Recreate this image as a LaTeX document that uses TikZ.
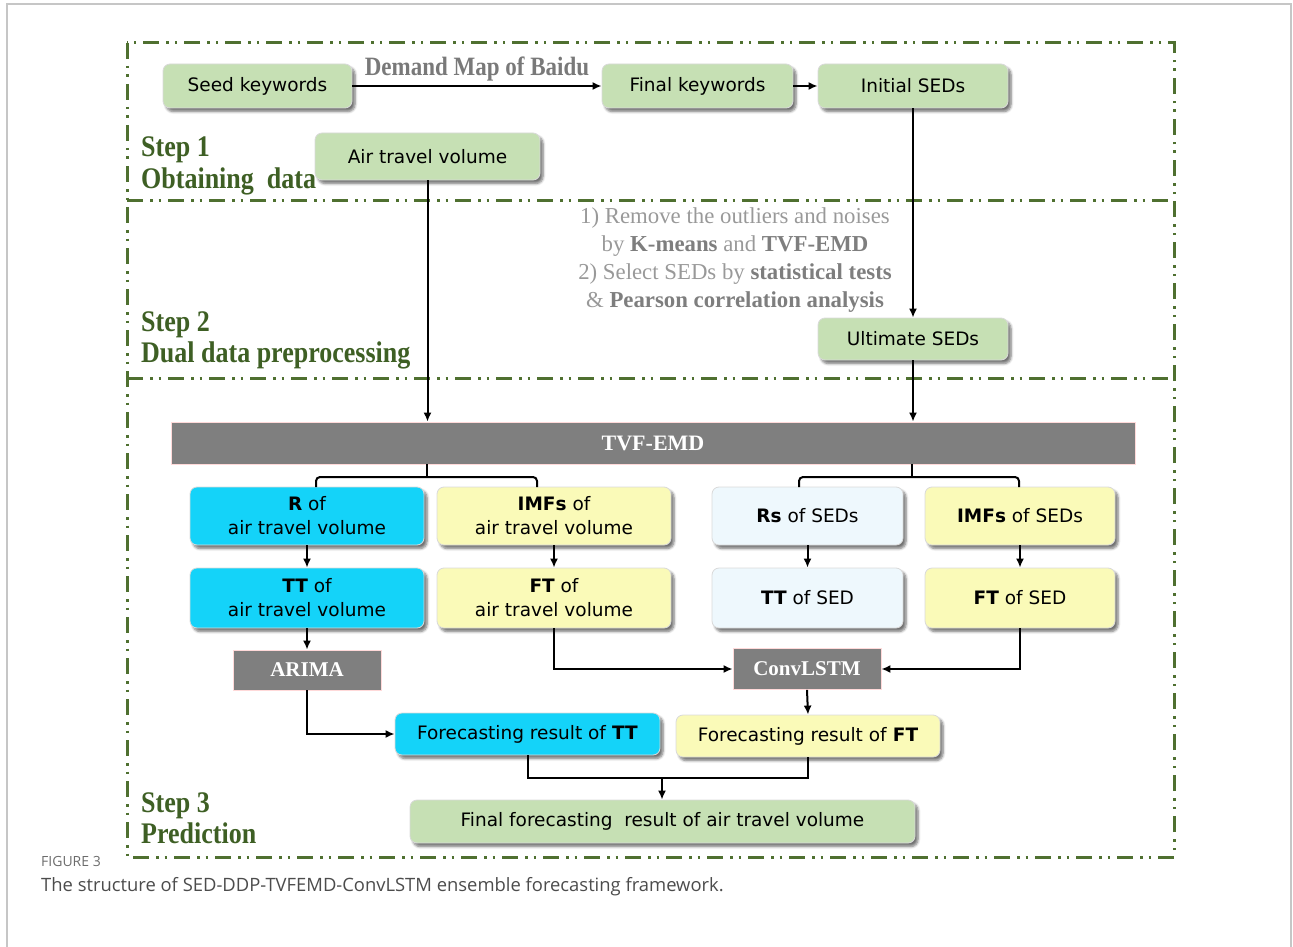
\documentclass[tikz,border=0pt]{standalone}
\usepackage{fontspec}
\usepackage{graphicx}
\setmainfont{Liberation Serif}
\newfontfamily\boxfont{DejaVu Sans}
\newfontfamily\capfont{Open Sans}
\usetikzlibrary{arrows.meta,shadows.blur}
\definecolor{boxgreen}{HTML}{C6E0B4}
\definecolor{boxcyan}{HTML}{14D3F9}
\definecolor{boxyellow}{HTML}{FAFAB8}
\definecolor{boxlblue}{HTML}{EEF8FD}
\definecolor{grayfill}{HTML}{7F7F7F}
\definecolor{frameg}{HTML}{4F7030}
\definecolor{stepg}{HTML}{3E5F24}
\definecolor{notegray}{HTML}{999999}
\definecolor{notebold}{HTML}{7E7E7E}
\newcommand{\tallt}[1]{\scalebox{1}[1.15]{#1}}
\tikzset{
  bx/.style={rounded corners=7pt, draw=white!85!black, line width=0.8pt, align=center, inner sep=0pt,
     font=\boxfont\fontsize{18.5}{24}\selectfont,
     blur shadow={shadow xshift=3pt, shadow yshift=-3.5pt, shadow blur steps=6, shadow blur radius=2.5pt, shadow opacity=55}},
  gbx/.style={bx, fill=boxgreen},
  cbx/.style={bx, fill=boxcyan},
  ybx/.style={bx, fill=boxyellow},
  lbx/.style={bx, fill=boxlblue},
  graybx/.style={fill=grayfill, draw=red!15!white, line width=0.8pt, inner sep=0pt, text=white,
     font=\bfseries\fontsize{22}{26}\selectfont},
  steplabel/.style={anchor=base west, text=stepg, font=\bfseries\fontsize{26}{30}\selectfont, inner sep=0pt},
  frm/.style={draw=frameg, line width=3pt, dash pattern=on 16pt off 7pt on 2.5pt off 6pt on 2.5pt off 7pt},
  arr/.style={-{Latex[length=9pt,width=8pt]}, line width=2pt},
  ln/.style={line width=2pt},
}
\begin{document}
\begin{tikzpicture}[x=1pt,y=-1pt]
\useasboundingbox (0,0) rectangle (1293,947);
% outer light frame
\draw[gray!45, line width=1.5pt] (7,947) -- (7,4) -- (1291,4) -- (1291,947);
% green dash-dot frame
\draw[frm] (127,43) rectangle (1174,857);
\draw[frm] (127,200) -- (1174,200);
\draw[frm] (127,378) -- (1174,378);

% step labels
\node[steplabel] (s1a) at (141,157) {\tallt{Step 1}};
\node[steplabel] (s1b) at (141,188) {\tallt{Obtaining\ \ data}};
\node[steplabel] (s2a) at (141,331) {\tallt{Step 2}};
\node[steplabel] (s2b) at (141,362) {\tallt{Dual data preprocessing}};
\node[steplabel] (s3a) at (141,812) {\tallt{Step 3}};
\node[steplabel] (s3b) at (141,843) {\tallt{Prediction}};

% step 1 nodes
\node[gbx, minimum width=189pt, minimum height=44pt] (seed) at (257.5,86) {Seed keywords};
\node[gbx, minimum width=191pt, minimum height=44pt] (final) at (697.5,86) {Final keywords};
\node[gbx, minimum width=190pt, minimum height=44pt] (init) at (913,86) {Initial SEDs};
\node[gbx, minimum width=225pt, minimum height=47pt] (air) at (427.5,156.5) {Air travel volume};

\draw[arr] (seed.east) -- node[above=0pt, text=gray!95!black, font=\bfseries\fontsize{23}{26}\selectfont, yshift=1pt] (dm) {\tallt{Demand Map of Baidu}} (final.west);
\draw[arr] (final.east) -- (init.west);

% step 2
\node[gbx, minimum width=190pt, minimum height=42pt] (ult) at (913,339) {Ultimate SEDs};
\node[align=center, text=notegray, font=\fontsize{22.8}{28}\selectfont, inner sep=0pt] (note) at (735,260)
  {1) Remove the outliers and noises\\
   by {\color{notebold}\bfseries K-means} and {\color{notebold}\bfseries TVF-EMD}\\
   2) Select SEDs by {\color{notebold}\bfseries statistical tests}\\
   \& {\color{notebold}\bfseries Pearson correlation analysis}};
\draw[arr] (init.south) -- (ult.north);

% step 3
\node[graybx, minimum width=964pt, minimum height=42pt] (tvf) at (653,443) {TVF-EMD};
\draw[arr] (air.south) -- (air.south |- tvf.north);
\draw[arr] (ult.south) -- (ult.south |- tvf.north);

\node[cbx, minimum width=234pt, minimum height=58pt] (r) at (307,516) {\textbf{R} of\\air travel volume};
\node[ybx, minimum width=234pt, minimum height=58pt] (imfa) at (554,516) {\textbf{IMFs} of\\air travel volume};
\node[lbx, minimum width=191pt, minimum height=58pt] (rs) at (807.5,516) {\textbf{Rs} of SEDs};
\node[ybx, minimum width=190pt, minimum height=58pt] (imfs) at (1020,516) {\textbf{IMFs} of SEDs};

\node[cbx, minimum width=234pt, minimum height=60pt] (tta) at (307,598) {\textbf{TT} of\\air travel volume};
\node[ybx, minimum width=234pt, minimum height=60pt] (fta) at (554,598) {\textbf{FT} of\\air travel volume};
\node[lbx, minimum width=191pt, minimum height=60pt] (tts) at (807.5,598) {\textbf{TT} of SED};
\node[ybx, minimum width=190pt, minimum height=60pt] (fts) at (1020,598) {\textbf{FT} of SED};

% braces
\coordinate (bl1) at (316,487); \coordinate (bl2) at (537,487); \coordinate (blm) at (427,477);
\coordinate (br1) at (799,487); \coordinate (br2) at (1019,487); \coordinate (brm) at (912,477);
\draw[ln, rounded corners=4pt] (bl1) |- (blm) -| (bl2);
\draw[ln] (tvf.south -| blm) -- (blm);
\draw[ln, rounded corners=4pt] (br1) |- (brm) -| (br2);
\draw[ln] (tvf.south -| brm) -- (brm);

\draw[arr] (r.south) -- (tta.north);
\draw[arr] (imfa.south) -- (fta.north);
\draw[arr] (rs.south) -- (tts.north);
\draw[arr] (imfs.south) -- (fts.north);

\node[graybx, minimum width=148pt, minimum height=40pt, font=\bfseries\fontsize{21}{25}\selectfont] (arima) at (307,670) {ARIMA};
\node[graybx, minimum width=148pt, minimum height=41pt, font=\bfseries\fontsize{21}{25}\selectfont] (conv) at (807,669) {ConvLSTM};

\draw[arr] (tta.south) -- (arima.north);
\draw[arr] (fta.south) |- (conv.west);
\draw[arr] (fts.south) |- (conv.east);

\node[cbx, minimum width=265pt, minimum height=42pt] (frtt) at (527.5,734) {Forecasting result of \textbf{TT}};
\node[ybx, minimum width=264pt, minimum height=42pt] (frft) at (808,736) {Forecasting result of \textbf{FT}};
\draw[arr] (arima.south) |- (frtt.west);
\draw[arr] (conv.south) -- (frft.north);

\node[gbx, minimum width=505pt, minimum height=43pt] (fin) at (662.5,821.5) {Final forecasting\ \ result of air travel volume};
\coordinate (j) at (662,778);
\draw[ln] (frtt.south) |- (j);
\draw[ln] (frft.south) |- (j);
\draw[arr] (j) -- (j |- fin.north);

% caption
\node[anchor=base west, inner sep=0pt, text=gray!85!black, font=\capfont\fontsize{14}{16}\selectfont] (figlab) at (41,866) {FIGURE 3};
\node[anchor=base west, inner sep=0pt, text=black!70, font=\capfont\fontsize{18.4}{20}\selectfont] (cap) at (41,891) {The structure of SED-DDP-TVFEMD-ConvLSTM ensemble forecasting framework.};
\end{tikzpicture}
\end{document}
